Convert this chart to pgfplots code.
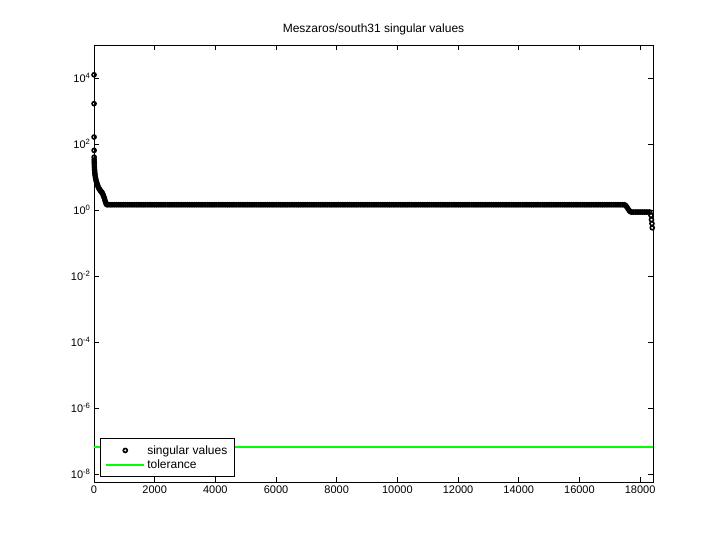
\documentclass[border=0pt]{standalone}
\usepackage{fontspec}
\setmainfont{Liberation Sans}
\usepackage{pgfplots}
\pgfplotsset{compat=1.18}
\definecolor{mgreen}{rgb}{0,1,0}
\pgfplotsset{
  markleg/.style={legend image code/.code={\draw[##1] plot coordinates {(19pt,0pt)};}},
  lineleg/.style={legend image code/.code={\draw[##1] (0pt,0pt) -- (38pt,0pt);}},
}
\begin{document}
\begin{tikzpicture}
\path[use as bounding box] (0,0) rectangle (720pt,540pt);
\begin{axis}[
  at={(94pt,58pt)}, anchor=south west,
  width=559pt, height=437pt, scale only axis,
  xmin=0, xmax=18425,
  ymode=log, ymin=5.8e-9, ymax=1e5,
  xtick={0,2000,4000,6000,8000,10000,12000,14000,16000,18000},
  scaled x ticks=false,
  xticklabel style={/pgf/number format/1000 sep={}},
  /pgf/number format/assume math mode=true,
  ytick={1e-8,1e-6,1e-4,1e-2,1,1e2,1e4},
  yticklabels={10\textsuperscript{-8},10\textsuperscript{-6},10\textsuperscript{-4},10\textsuperscript{-2},10\textsuperscript{0},10\textsuperscript{2},10\textsuperscript{4}},
  yminorticks=false,
  tick align=inside,
  major tick length=5pt,
  tick style={black, line width=0.6pt},
  axis line style={line width=0.6pt},
  ticklabel style={font=\fontsize{11}{13}\selectfont},
  title={Meszaros/south31 singular values},
  title style={font=\fontsize{12}{14}\selectfont, at={(0.5,1)}, anchor=base, yshift=6pt},
  legend style={at={(0.0107,0.0114)}, anchor=south west, draw=black, line width=0.6pt,
    font=\fontsize{12}{14}\selectfont, inner xsep=5pt, inner ysep=5pt, row sep=0pt},
  legend cell align=left,
]
\addplot[only marks, mark=o, mark size=2.0pt, black, mark options={line width=1.6pt}, markleg]
coordinates {
(1,12500)(2,1670)(3,163)(4,64)(5,40)(6,33)(8,28)(10,24)(13,20)(17,17)(22,15)(28,13)(35,11.5)(45,10)(55,8.9)(70,7.8)(85,7.0)(100,6.3)(120,5.6)(140,5.0)(160,4.6)(180,4.3)(200,4.0)(220,3.8)(240,3.6)(260,3.4)(280,3.2)(300,2.9)(320,2.6)(340,2.3)(360,2.0)(380,1.75)(400,1.55)(420,1.47)
(440,1.45)(500,1.45)(560,1.45)(620,1.45)(680,1.45)(740,1.45)(800,1.45)(860,1.45)(920,1.45)(980,1.45)
(1040,1.45)(1100,1.45)(1160,1.45)(1220,1.45)(1280,1.45)(1340,1.45)(1400,1.45)(1460,1.45)(1520,1.45)(1580,1.45)
(1640,1.45)(1700,1.45)(1760,1.45)(1820,1.45)(1880,1.45)(1940,1.45)(2000,1.45)(2060,1.45)(2120,1.45)(2180,1.45)
(2240,1.45)(2300,1.45)(2360,1.45)(2420,1.45)(2480,1.45)(2540,1.45)(2600,1.45)(2660,1.45)(2720,1.45)(2780,1.45)
(2840,1.45)(2900,1.45)(2960,1.45)(3020,1.45)(3080,1.45)(3140,1.45)(3200,1.45)(3260,1.45)(3320,1.45)(3380,1.45)
(3440,1.45)(3500,1.45)(3560,1.45)(3620,1.45)(3680,1.45)(3740,1.45)(3800,1.45)(3860,1.45)(3920,1.45)(3980,1.45)
(4040,1.45)(4100,1.45)(4160,1.45)(4220,1.45)(4280,1.45)(4340,1.45)(4400,1.45)(4460,1.45)(4520,1.45)(4580,1.45)
(4640,1.45)(4700,1.45)(4760,1.45)(4820,1.45)(4880,1.45)(4940,1.45)(5000,1.45)(5060,1.45)(5120,1.45)(5180,1.45)
(5240,1.45)(5300,1.45)(5360,1.45)(5420,1.45)(5480,1.45)(5540,1.45)(5600,1.45)(5660,1.45)(5720,1.45)(5780,1.45)
(5840,1.45)(5900,1.45)(5960,1.45)(6020,1.45)(6080,1.45)(6140,1.45)(6200,1.45)(6260,1.45)(6320,1.45)(6380,1.45)
(6440,1.45)(6500,1.45)(6560,1.45)(6620,1.45)(6680,1.45)(6740,1.45)(6800,1.45)(6860,1.45)(6920,1.45)(6980,1.45)
(7040,1.45)(7100,1.45)(7160,1.45)(7220,1.45)(7280,1.45)(7340,1.45)(7400,1.45)(7460,1.45)(7520,1.45)(7580,1.45)
(7640,1.45)(7700,1.45)(7760,1.45)(7820,1.45)(7880,1.45)(7940,1.45)(8000,1.45)(8060,1.45)(8120,1.45)(8180,1.45)
(8240,1.45)(8300,1.45)(8360,1.45)(8420,1.45)(8480,1.45)(8540,1.45)(8600,1.45)(8660,1.45)(8720,1.45)(8780,1.45)
(8840,1.45)(8900,1.45)(8960,1.45)(9020,1.45)(9080,1.45)(9140,1.45)(9200,1.45)(9260,1.45)(9320,1.45)(9380,1.45)
(9440,1.45)(9500,1.45)(9560,1.45)(9620,1.45)(9680,1.45)(9740,1.45)(9800,1.45)(9860,1.45)(9920,1.45)(9980,1.45)
(10040,1.45)(10100,1.45)(10160,1.45)(10220,1.45)(10280,1.45)(10340,1.45)(10400,1.45)(10460,1.45)(10520,1.45)(10580,1.45)
(10640,1.45)(10700,1.45)(10760,1.45)(10820,1.45)(10880,1.45)(10940,1.45)(11000,1.45)(11060,1.45)(11120,1.45)(11180,1.45)
(11240,1.45)(11300,1.45)(11360,1.45)(11420,1.45)(11480,1.45)(11540,1.45)(11600,1.45)(11660,1.45)(11720,1.45)(11780,1.45)
(11840,1.45)(11900,1.45)(11960,1.45)(12020,1.45)(12080,1.45)(12140,1.45)(12200,1.45)(12260,1.45)(12320,1.45)(12380,1.45)
(12440,1.45)(12500,1.45)(12560,1.45)(12620,1.45)(12680,1.45)(12740,1.45)(12800,1.45)(12860,1.45)(12920,1.45)(12980,1.45)
(13040,1.45)(13100,1.45)(13160,1.45)(13220,1.45)(13280,1.45)(13340,1.45)(13400,1.45)(13460,1.45)(13520,1.45)(13580,1.45)
(13640,1.45)(13700,1.45)(13760,1.45)(13820,1.45)(13880,1.45)(13940,1.45)(14000,1.45)(14060,1.45)(14120,1.45)(14180,1.45)
(14240,1.45)(14300,1.45)(14360,1.45)(14420,1.45)(14480,1.45)(14540,1.45)(14600,1.45)(14660,1.45)(14720,1.45)(14780,1.45)
(14840,1.45)(14900,1.45)(14960,1.45)(15020,1.45)(15080,1.45)(15140,1.45)(15200,1.45)(15260,1.45)(15320,1.45)(15380,1.45)
(15440,1.45)(15500,1.45)(15560,1.45)(15620,1.45)(15680,1.45)(15740,1.45)(15800,1.45)(15860,1.45)(15920,1.45)(15980,1.45)
(16040,1.45)(16100,1.45)(16160,1.45)(16220,1.45)(16280,1.45)(16340,1.45)(16400,1.45)(16460,1.45)(16520,1.45)(16580,1.45)
(16640,1.45)(16700,1.45)(16760,1.45)(16820,1.45)(16880,1.45)(16940,1.45)(17000,1.45)(17060,1.45)(17120,1.45)(17180,1.45)
(17240,1.45)(17300,1.45)(17360,1.45)(17420,1.45)(17480,1.45)
(17520,1.38)(17560,1.25)(17600,1.1)(17640,0.97)(17680,0.89)(17720,0.87)(17780,0.87)(17840,0.87)(17900,0.87)(17960,0.87)(18020,0.87)(18080,0.87)(18140,0.87)(18200,0.87)(18260,0.87)(18320,0.87)
(18360,0.69)(18375,0.51)(18390,0.39)(18400,0.29)
};
\addlegendentry{singular values}
\addplot[mgreen, line width=2pt, lineleg]
coordinates {(0,6.6e-8)(18425,6.6e-8)};
\addlegendentry{tolerance}
\end{axis}
\end{tikzpicture}
\end{document}
